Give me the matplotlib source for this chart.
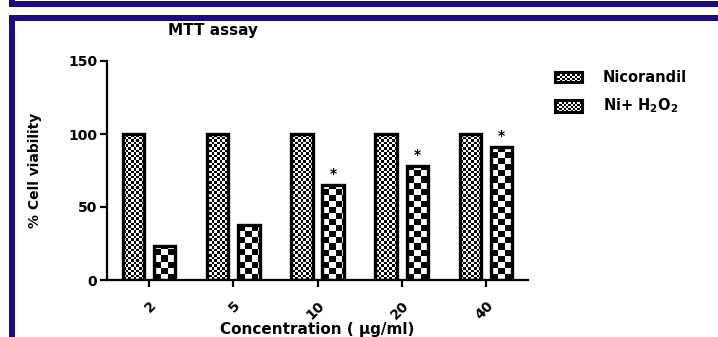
import numpy as np
import matplotlib
matplotlib.use("Agg")
import matplotlib.pyplot as plt
from matplotlib.patches import Rectangle

plt.rcParams['font.family'] = ['DejaVu Sans']
plt.rcParams['font.weight'] = 'bold'
plt.rcParams['mathtext.default'] = 'bf'

# MTT assay data
concentrations = ['2', '5', '10', '20', '40']
nicorandil = [100, 100, 100, 100, 100]
ni_h2o2 = [23, 38, 65, 78, 91]
significant = [False, False, True, True, True]

W, H = 718, 337
fig = plt.figure(figsize=(W / 100, H / 100), dpi=100)
NAVY = '#1b0c80'


def px_rect(x0, y0, x1, y1, **kw):
    # rectangle given in pixel coords measured from top-left
    fig.add_artist(Rectangle((x0 / W, 1 - y1 / H), (x1 - x0) / W, (y1 - y0) / H,
                             transform=fig.transFigure, **kw))


# page frame lines
px_rect(9, 1, W, 7, facecolor=NAVY, edgecolor='none')
px_rect(9, 0, 15, 7, facecolor=NAVY, edgecolor='none')
px_rect(9, 15, W, 21, facecolor=NAVY, edgecolor='none')
px_rect(9, 15, 15, H, facecolor=NAVY, edgecolor='none')

ax_l, ax_r, ax_b, ax_t = 107, 528, 280, 61
ax = fig.add_axes([ax_l / W, 1 - ax_b / H, (ax_r - ax_l) / W, (ax_b - ax_t) / H])

x = np.arange(len(concentrations))
bw = 0.255
off = 0.185
bars1 = ax.bar(x - off, nicorandil, bw, facecolor='none', edgecolor='black',
               linewidth=2.4, zorder=3)
bars2 = ax.bar(x + off, ni_h2o2, bw, facecolor='none', edgecolor='black',
               linewidth=2.4, zorder=3)

ax.set_xlim(-0.5, len(concentrations) - 0.5)
ax.set_ylim(0, 150)


def checker(cell):
    nx = int((ax_r - ax_l) / cell)
    ny = int((ax_b - ax_t) / cell)
    return np.add.outer(np.arange(ny), np.arange(nx)) % 2


fine = checker(2.6)
coarse = checker(6)
extent = (-0.5, len(concentrations) - 0.5, 0, 150)
for bars, pat in ((bars1, fine), (bars2, coarse)):
    for b in bars:
        im = ax.imshow(pat, cmap='gray', extent=extent, aspect='auto',
                       interpolation='nearest', zorder=2, origin='lower')
        im.set_clip_path(b)

for xi, v, s in zip(x, ni_h2o2, significant):
    if s:
        ax.text(xi + off, v + 3, '*', ha='center', va='bottom',
                fontsize=10, fontweight='bold')

ax.spines['top'].set_visible(False)
ax.spines['right'].set_visible(False)
ax.spines['left'].set_linewidth(1.6)
ax.spines['bottom'].set_linewidth(1.6)
ax.set_yticks([0, 50, 100, 150])
ax.set_xticks(x)
ax.set_xticklabels(concentrations, rotation=45, ha='right', rotation_mode='anchor')
ax.tick_params(axis='both', direction='out', length=5, width=1.6, labelsize=10)
ax.tick_params(axis='x', pad=8)
ax.tick_params(axis='y', pad=2)

ax.set_ylabel('% Cell viability', fontsize=10, fontweight='bold')
ax.yaxis.set_label_coords(-0.154, 0.5)
ax.set_xlabel('Concentration ( \u00b5g/ml)', fontsize=11, fontweight='bold')
ax.xaxis.set_label_coords(0.499, -0.19)

fig.text(213 / W, 1 - 30 / H, 'MTT assay', ha='center', va='center',
         fontsize=11, fontweight='bold')

# legend swatches
labels = ['Nicorandil', r'Ni+ H$_2$O$_2$']
swatch_y = [(72, 82), (100, 112)]
for (y0, y1), pat, lab in zip(swatch_y, (fine, coarse), labels):
    sax = fig.add_axes([555 / W, 1 - y1 / H, 27 / W, (y1 - y0) / H])
    sax.imshow(pat[:6, :12] if pat is coarse else pat[:5, :11], cmap='gray',
               aspect='auto', interpolation='nearest')
    sax.set_xticks([])
    sax.set_yticks([])
    for sp in sax.spines.values():
        sp.set_linewidth(2.2)
    fig.text(603 / W, 1 - (y0 + y1) / 2 / H, lab, ha='left', va='center',
             fontsize=10.5, fontweight='bold')

fig.savefig('out.png', dpi=100)
